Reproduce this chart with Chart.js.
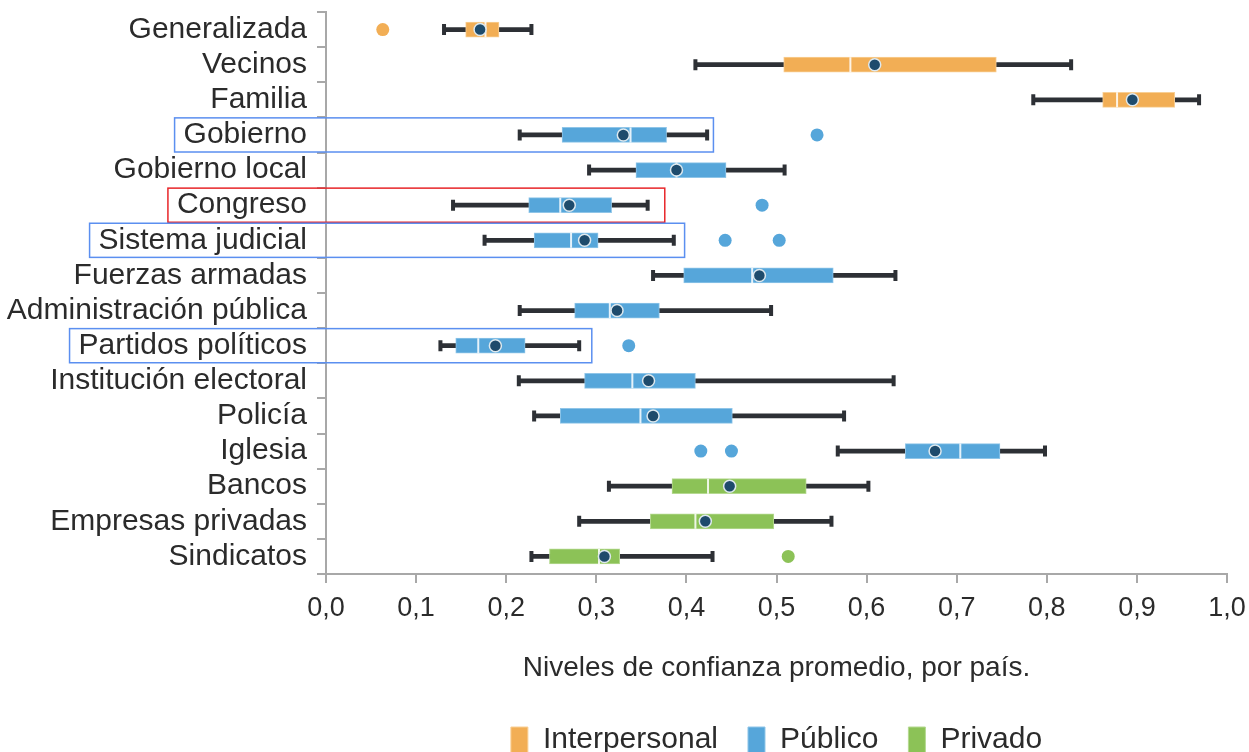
<!DOCTYPE html>
<html>
<head>
<meta charset="utf-8">
<script src="https://cdn.jsdelivr.net/npm/chart.js@4.4.1/dist/chart.umd.min.js"></script>
<style>
  html, body { margin: 0; background: #fff; }
  #wrap { width: 1249px; height: 752px; }
</style>
</head>
<body>
<div id="wrap"><canvas id="chart"></canvas></div>
<script>
/**
 *  Data
 */
var categories = ["Generalizada", "Vecinos", "Familia", "Gobierno", "Gobierno local", "Congreso",
    "Sistema judicial", "Fuerzas armadas", "Administración pública", "Partidos políticos",
    "Institución electoral", "Policía", "Iglesia", "Bancos", "Empresas privadas", "Sindicatos"];
var groupOf = ["Interpersonal", "Interpersonal", "Interpersonal",
    "Público", "Público", "Público", "Público", "Público", "Público", "Público", "Público", "Público", "Público",
    "Privado", "Privado", "Privado"];
var groupNames = ["Interpersonal", "Público", "Privado"];

var whiskerMin = [0.131, 0.410, 0.785, 0.215, 0.292, 0.141, 0.176, 0.363, 0.215, 0.127, 0.214, 0.231, 0.568, 0.314, 0.281, 0.228];
var q1         = [0.155, 0.508, 0.862, 0.262, 0.344, 0.225, 0.231, 0.397, 0.276, 0.144, 0.287, 0.260, 0.643, 0.384, 0.360, 0.248];
var median     = [0.177, 0.582, 0.878, 0.338, 0.389, 0.260, 0.272, 0.473, 0.315, 0.169, 0.340, 0.349, 0.704, 0.424, 0.410, 0.303];
var q3         = [0.192, 0.744, 0.942, 0.378, 0.444, 0.317, 0.302, 0.563, 0.370, 0.221, 0.410, 0.451, 0.748, 0.533, 0.497, 0.326];
var whiskerMax = [0.228, 0.827, 0.969, 0.423, 0.509, 0.357, 0.386, 0.632, 0.494, 0.281, 0.630, 0.575, 0.798, 0.602, 0.561, 0.429];
var mean       = [0.171, 0.609, 0.895, 0.330, 0.389, 0.270, 0.287, 0.481, 0.323, 0.188, 0.358, 0.363, 0.676, 0.448, 0.421, 0.309];

var outlierCategory = ["Generalizada", "Gobierno", "Congreso", "Sistema judicial", "Sistema judicial",
    "Partidos políticos", "Iglesia", "Iglesia", "Sindicatos"];
var outlierValue = [0.063, 0.545, 0.484, 0.443, 0.503, 0.336, 0.416, 0.450, 0.513];

var xTicks = [0, 0.1, 0.2, 0.3, 0.4, 0.5, 0.6, 0.7, 0.8, 0.9, 1.0];

// highlighted rows (frames drawn around label + box)
var highlightRows = ["Gobierno", "Congreso", "Sistema judicial", "Partidos políticos"];
var highlightEnd = [0.430, 0.376, 0.398, 0.295];
var highlightColor = ["#5b8ff0", "#e8262a", "#5b8ff0", "#5b8ff0"];

/**
 *  Styles
 */
var groupColor = { "Interpersonal": "#f2ae55", "Público": "#56a6da", "Privado": "#8cc257" };
var groupBorder = { "Interpersonal": "#f8cf95", "Público": "#8fc5e8", "Privado": "#b5d991" };
var whiskerColor = "#2d3035";
var meanColor = "#1e4b6c";
var textColor = "#2b2b2b";
var axisColor = "#a8a8a8";

// pick narrow font if it exists, otherwise regular at a smaller size
var narrowOk = (function () {
    var c = document.createElement("canvas").getContext("2d");
    c.font = "36px monospace";
    var a = c.measureText("Administración pública").width;
    c.font = "36px 'Liberation Sans Narrow', monospace";
    var b = c.measureText("Administración pública").width;
    return a !== b;
})();
var family = narrowOk ? "'Liberation Sans Narrow', 'Arial Narrow', sans-serif" : "'Liberation Sans', Arial, sans-serif";
var labelSize = narrowOk ? 36 : 30;
var tickSize = narrowOk ? 33 : 27;
var titleSize = narrowOk ? 34 : 28;
var legendSize = narrowOk ? 36 : 30;

/**
 *  Datasets
 */
var datasets = [];

datasets.push({
    type: "bar",
    label: "whisker",
    data: categories.map(function (c, i) { return [whiskerMin[i], whiskerMax[i]]; }),
    backgroundColor: whiskerColor,
    barThickness: 4,
    grouped: false,
    order: 5
});

var caps = [];
categories.forEach(function (c, i) {
    caps.push({ x: whiskerMin[i], y: c });
    caps.push({ x: whiskerMax[i], y: c });
});
datasets.push({
    type: "scatter",
    label: "caps",
    data: caps,
    pointStyle: "line",
    pointRotation: 90,
    pointRadius: 5.5,
    pointBorderWidth: 4,
    pointBorderColor: whiskerColor,
    order: 4
});

groupNames.forEach(function (g) {
    datasets.push({
        type: "bar",
        label: g,
        data: categories.map(function (c, i) { return groupOf[i] === g ? [q1[i], q3[i]] : null; }),
        backgroundColor: groupColor[g],
        borderColor: groupBorder[g],
        borderWidth: 1,
        borderSkipped: false,
        barThickness: 15,
        grouped: false,
        order: 3
    });
});

datasets.push({
    type: "scatter",
    label: "median",
    data: categories.map(function (c, i) { return { x: median[i], y: c }; }),
    pointStyle: "line",
    pointRotation: 90,
    pointRadius: 7.5,
    pointBorderWidth: 2,
    pointBorderColor: "rgba(255,255,255,0.85)",
    order: 2
});

groupNames.forEach(function (g) {
    var pts = [];
    outlierCategory.forEach(function (c, k) {
        if (groupOf[categories.indexOf(c)] === g) pts.push({ x: outlierValue[k], y: c });
    });
    datasets.push({
        type: "scatter",
        label: "outlier " + g,
        data: pts,
        pointRadius: 6.5,
        pointBorderWidth: 0,
        pointBackgroundColor: groupColor[g],
        order: 1
    });
});

datasets.push({
    type: "scatter",
    label: "mean",
    data: categories.map(function (c, i) { return { x: mean[i], y: c }; }),
    pointRadius: 6,
    pointBorderWidth: 1.5,
    pointBackgroundColor: meanColor,
    pointBorderColor: "#dde8ee",
    order: 0
});

/**
 *  Highlight frames
 */
var highlightPlugin = {
    id: "highlight",
    afterDatasetsDraw: function (chart) {
        var ctx = chart.ctx;
        var x = chart.scales.x, y = chart.scales.y;
        var row = y.getPixelForValue(1) - y.getPixelForValue(0);
        ctx.save();
        ctx.font = labelSize + "px " + family;
        highlightRows.forEach(function (name, k) {
            var i = categories.indexOf(name);
            var yc = y.getPixelForValue(i);
            var labelRight = y.right - 9 - 10;
            var left = labelRight - ctx.measureText(name).width - 9;
            var right = x.getPixelForValue(highlightEnd[k]);
            ctx.strokeStyle = highlightColor[k];
            ctx.lineWidth = 1.5;
            ctx.strokeRect(left, yc - row / 2 + 0.5, right - left, row - 1);
        });
        ctx.restore();
    }
};

new Chart(document.getElementById("chart"), {
    type: "bar",
    data: { labels: categories, datasets: datasets },
    plugins: [highlightPlugin],
    options: {
        indexAxis: "y",
        responsive: true,
        maintainAspectRatio: false,
        animation: false,
        events: [],
        layout: { padding: { top: 12, right: 22, bottom: -13, left: 0 } },
        scales: {
            x: {
                type: "linear",
                min: 0,
                max: 1,
                afterBuildTicks: function (s) {
                    s.ticks = xTicks.map(function (v) { return { value: v }; });
                },
                afterFit: function (s) {
                    s.height = 121;
                    s.paddingLeft = 0;
                    s.paddingRight = 0;
                },
                grid: { drawOnChartArea: false, tickLength: 9, color: axisColor, lineWidth: 2 },
                border: { color: axisColor, width: 2 },
                ticks: {
                    padding: 9,
                    color: textColor,
                    font: { family: family, size: tickSize },
                    callback: function (v) { return v.toFixed(1).replace(".", ","); }
                },
                title: {
                    display: true,
                    text: "Niveles de confianza promedio, por país.",
                    color: textColor,
                    font: { family: family, size: titleSize },
                    padding: { top: 0, bottom: 10 }
                }
            },
            y: {
                type: "category",
                offset: true,
                grid: { offset: true, drawOnChartArea: false, tickLength: 9, color: axisColor, lineWidth: 2 },
                border: { color: axisColor, width: 2 },
                ticks: {
                    autoSkip: false,
                    padding: 10,
                    color: textColor,
                    font: { family: family, size: labelSize }
                },
                afterFit: function (s) {
                    s.width = 326;
                    s.paddingTop = 0;
                    s.paddingBottom = 0;
                }
            }
        },
        plugins: {
            tooltip: { enabled: false },
            legend: {
                position: "bottom",
                fullSize: false,
                labels: {
                    filter: function (item) { return groupNames.indexOf(item.text) >= 0; },
                    boxWidth: 17,
                    boxHeight: 26,
                    padding: 30,
                    color: textColor,
                    font: { family: family, size: legendSize }
                }
            }
        }
    }
});
</script>
</body>
</html>
